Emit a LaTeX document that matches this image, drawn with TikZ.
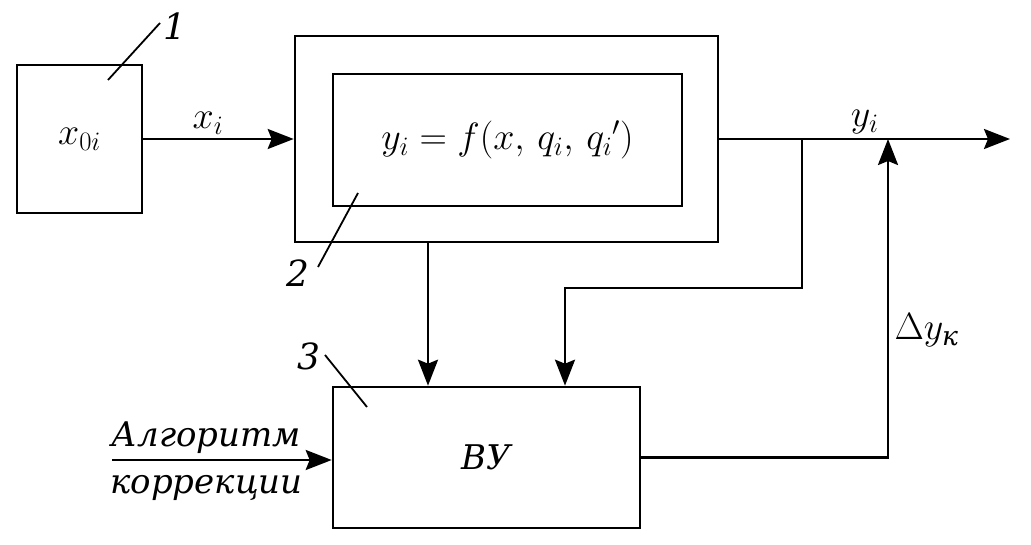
\RequirePackage{fix-cm}
\documentclass[tikz,border=0pt]{standalone}
\usepackage{amsmath}
\usepackage{fontspec}
\setmainfont{DejaVu Serif}
\usetikzlibrary{arrows.meta}

\begin{document}
\begin{tikzpicture}[x=1pt,y=-1pt,>={Stealth[length=26pt,width=20pt,inset=4pt]},
                line width=2.6pt,font=\fontsize{34}{40}\selectfont,
                box/.style={draw,rectangle,inner sep=0pt},
                mth/.style={font=\fontsize{38}{44}\selectfont},
                lead/.style={line width=1.8pt},
                num/.style={font=\fontsize{36}{40}\selectfont\itshape}]

                \useasboundingbox (0,0) rectangle (1031,545);

                \node[box,mth,minimum width=125pt,minimum height=148pt] (src) at (79.5,139) {$x_{0i}$};

                \node[box,minimum width=423pt,minimum height=206pt] (outer) at (506.5,139) {};

                \node[box,mth,minimum width=349pt,minimum height=132pt] (inner) at (507.5,140) {$y_i = f(x,\, q_i,\, {q_i}')$};

                \node[box,minimum width=307pt,minimum height=141pt] (vu) at (486.5,457.5) {\itshape ВУ};

                

                \coordinate (yout) at (1010,139);

                \coordinate (split) at (802,139);

                \coordinate (fb) at (565,288);

                \coordinate (dn) at (428,0);

                \coordinate (sum) at (888,139);

                \coordinate (alg) at (112,460);

                

                \draw[->] (src) -- node[mth,above,pos=0.43] {$x_i$} (outer);

                \draw[->] (outer) -- node[mth,above,midway] {$y_i$} (yout);

                \draw[->] (split) |- (fb) -- (fb |- vu.north);

                \draw[->] (outer.south -| dn) -- (vu.north -| dn);

                \draw[->] (vu) -| node[mth,pos=0.7,right=2pt] {$\Delta y_{\text{\itshape к}}$} (sum);

                \draw[->] (alg) -- node[above=2pt,pos=0.43] {\itshape Алгоритм}
                                   node[below=11pt,pos=0.43] {\itshape коррекции} (alg -| vu.west);

                

                \node[num] (n1) at (175,26) {1};

                \node[num] (n2) at (298,273) {2};

                \node[num] (n3) at (309,356) {3};

                \draw[lead] (108,80) -- (160,23);

                \draw[lead] (358,193) -- (318,267);

                \draw[lead] (325,355) -- (367,407);

            \end{tikzpicture}
\end{document}
